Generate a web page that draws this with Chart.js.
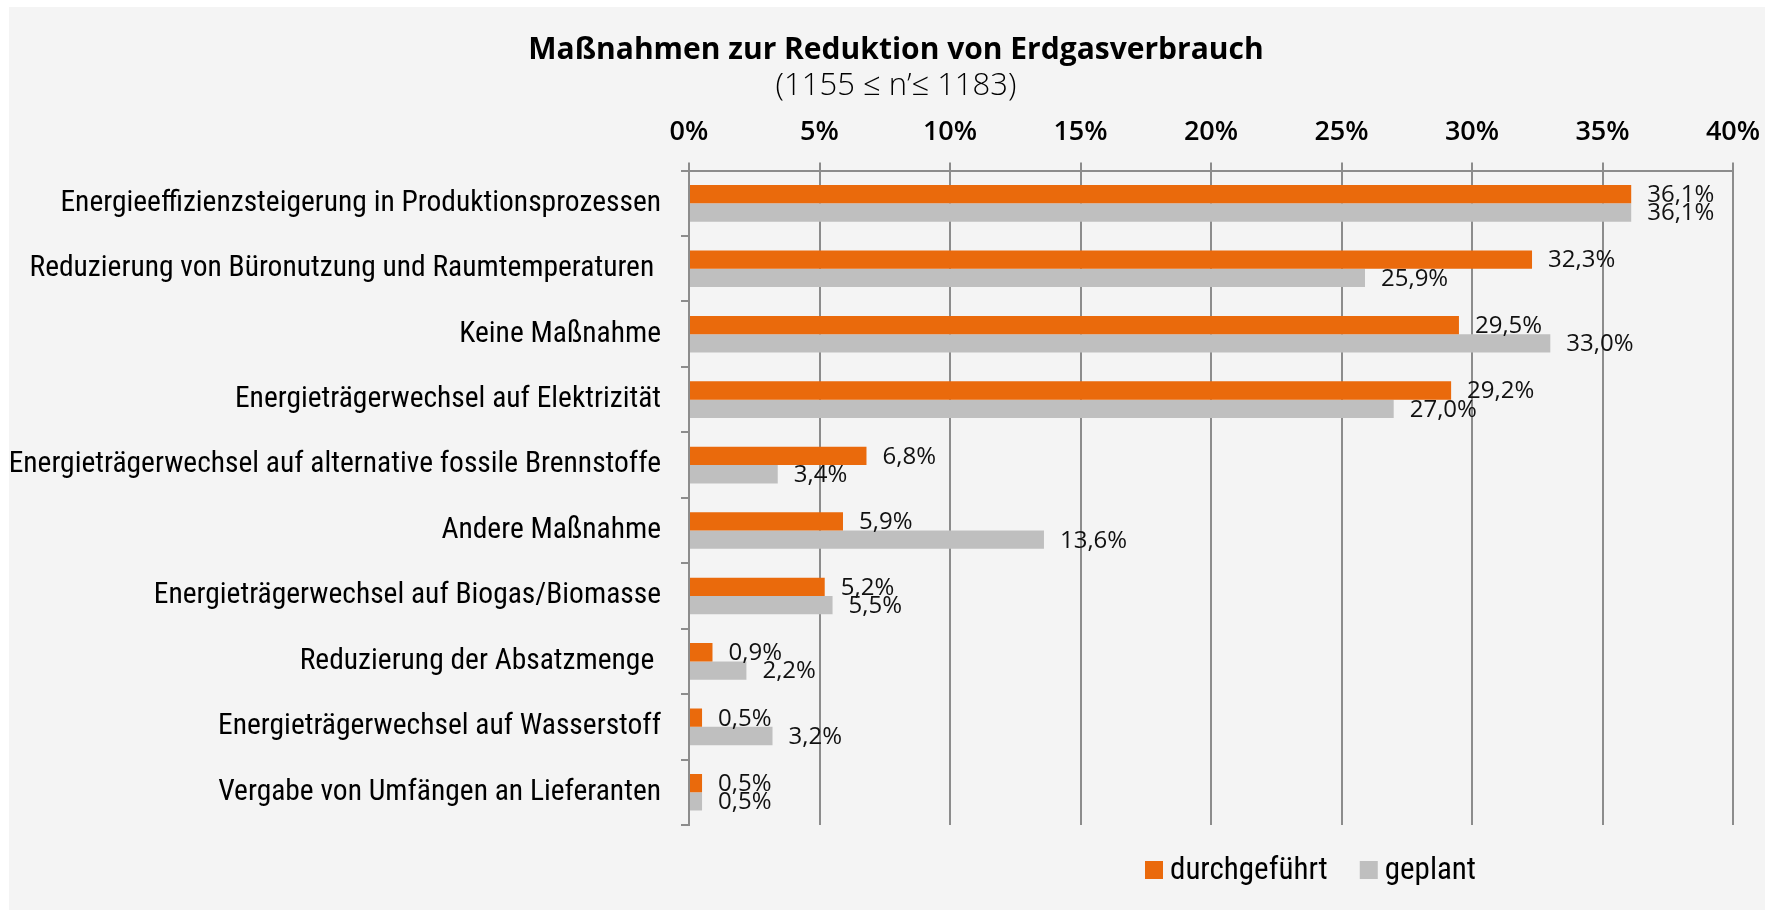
<!DOCTYPE html>
<html>
<head>
<meta charset="utf-8">
<script src="https://cdn.jsdelivr.net/npm/chart.js@4/dist/chart.umd.min.js"></script>
<style>
  html, body { margin: 0; padding: 0; background: #fff; }
  canvas { display: block; }
</style>
</head>
<body>
<canvas id="chart" width="1765" height="910"></canvas>
<script>
const categories = [
  "Energieeffizienzsteigerung in Produktionsprozessen",
  "Reduzierung von Büronutzung und Raumtemperaturen ",
  "Keine Maßnahme",
  "Energieträgerwechsel auf Elektrizität",
  "Energieträgerwechsel auf alternative fossile Brennstoffe",
  "Andere Maßnahme",
  "Energieträgerwechsel auf Biogas/Biomasse",
  "Reduzierung der Absatzmenge ",
  "Energieträgerwechsel auf Wasserstoff",
  "Vergabe von Umfängen an Lieferanten"
];
const doneValues = [36.1, 32.3, 29.5, 29.2, 6.8, 5.9, 5.2, 0.9, 0.5, 0.5];
const plannedValues = [36.1, 25.9, 33.0, 27.0, 3.4, 13.6, 5.5, 2.2, 3.2, 0.5];
const seriesNames = ["durchgeführt", "geplant"];
const seriesColors = ["#EA6A0C", "#BFBFBF"];

const condensed = "'Roboto Condensed', sans-serif";
const humanist = "'Open Sans', sans-serif";
const gridColor = "#8C8C8C";
const padLeft = 9;

// grey plot background with a thin white margin top/left
const background = {
  id: "background",
  beforeDraw(chart) {
    const ctx = chart.ctx;
    ctx.save();
    ctx.fillStyle = "#F4F4F4";
    ctx.fillRect(9, 7, chart.width - 9, chart.height - 7);
    ctx.restore();
  }
};

// value labels at the end of every bar (German decimal comma)
const valueLabels = {
  id: "valueLabels",
  afterDatasetsDraw(chart) {
    const ctx = chart.ctx;
    ctx.save();
    ctx.font = "24px " + humanist;
    ctx.fillStyle = "#111";
    ctx.textAlign = "left";
    ctx.textBaseline = "middle";
    chart.data.datasets.forEach((ds, i) => {
      chart.getDatasetMeta(i).data.forEach((bar, j) => {
        const txt = ds.data[j].toFixed(1).replace(".", ",") + "%";
        ctx.fillText(txt, bar.x + 16, bar.y + 1);
      });
    });
    ctx.restore();
  }
};

// legend sits bottom right, below the plot
const bottomLegend = {
  id: "bottomLegend",
  afterDraw(chart) {
    const ctx = chart.ctx;
    ctx.save();
    ctx.font = "31px " + condensed;
    ctx.textBaseline = "middle";
    ctx.textAlign = "left";
    let x = 1145;
    const y = 870;
    chart.data.datasets.forEach(ds => {
      ctx.fillStyle = ds.backgroundColor;
      ctx.fillRect(x, y - 9, 18, 18);
      ctx.fillStyle = "#000";
      ctx.fillText(ds.label, x + 25, y + 1);
      x += 25 + ctx.measureText(ds.label).width + 32;
    });
    ctx.restore();
  }
};

new Chart(document.getElementById("chart"), {
  type: "bar",
  data: {
    labels: categories,
    datasets: [
      { label: seriesNames[0], data: doneValues, backgroundColor: seriesColors[0] },
      { label: seriesNames[1], data: plannedValues, backgroundColor: seriesColors[1] }
    ]
  },
  options: {
    indexAxis: "y",
    responsive: false,
    animation: false,
    categoryPercentage: 0.56,
    barPercentage: 1,
    // negative right padding only widens the title box so the title sits
    // where it does in the original; the x axis keeps its own right margin
    layout: { padding: { left: padLeft, right: -18, top: 0, bottom: 85 } },
    plugins: {
      legend: { display: false },
      tooltip: { enabled: false },
      title: {
        display: true,
        text: "Maßnahmen zur Reduktion von Erdgasverbrauch",
        color: "#000",
        font: { family: humanist, size: 30, weight: "bold" },
        padding: { top: 32, bottom: 0 }
      },
      subtitle: {
        display: true,
        text: "(1155 ≤ n’≤ 1183)",
        color: "#000",
        font: { family: humanist, size: 31, weight: 300 },
        padding: { top: 0, bottom: -3 }
      }
    },
    scales: {
      x: {
        type: "linear",
        position: "top",
        min: 0,
        max: 40,
        ticks: {
          stepSize: 5,
          color: "#000",
          font: { family: humanist, size: 27, weight: 600 },
          padding: 14,
          callback: v => v + "%"
        },
        grid: { color: gridColor, lineWidth: 2, tickLength: 8 },
        border: { display: true, color: gridColor, width: 2 },
        afterFit(scale) {
          scale.paddingLeft = 0;
          scale.paddingRight = 32;
        }
      },
      y: {
        ticks: {
          color: "#000",
          font: { family: condensed, size: 29.5 },
          padding: 20
        },
        grid: { drawOnChartArea: false, drawTicks: true, tickLength: 8, color: gridColor, lineWidth: 2 },
        border: { display: true, color: gridColor, width: 2 },
        afterFit(scale) {
          scale.width = 689 - padLeft;
        }
      }
    }
  },
  plugins: [background, valueLabels, bottomLegend]
});
</script>
</body>
</html>
